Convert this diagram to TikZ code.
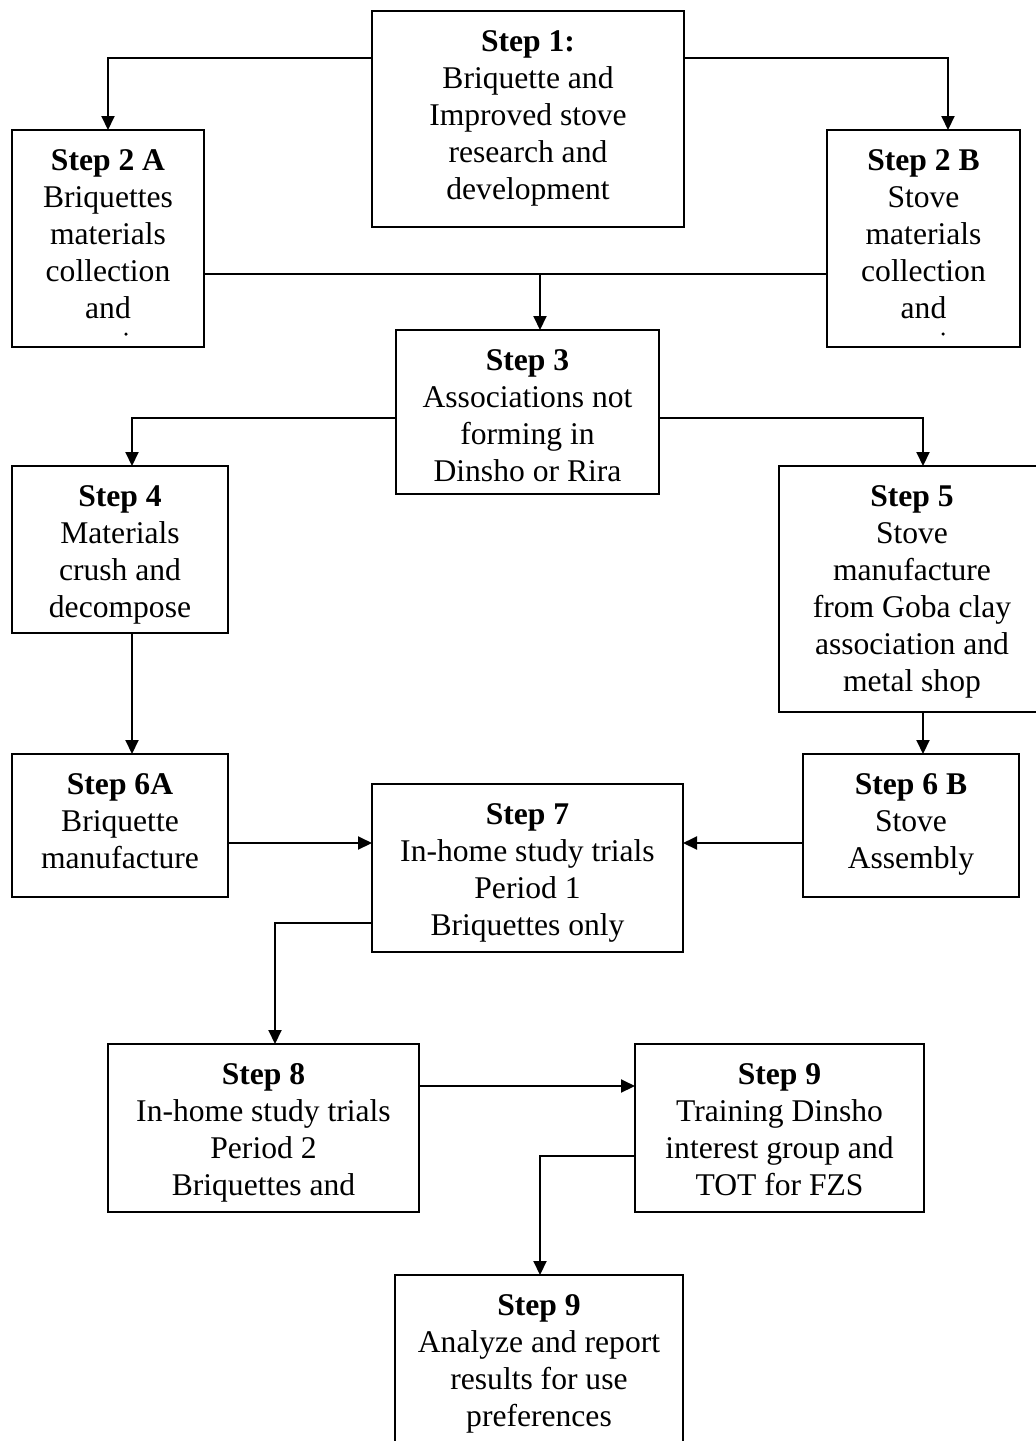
\documentclass[tikz,border=0pt]{standalone}
\usepackage{fontspec}
\setmainfont{Liberation Serif}
\usetikzlibrary{arrows.meta}
\tikzset{
  box/.style={draw=black, line width=2pt, inner sep=0pt, outer sep=0pt, fill=none},
  txt/.style={anchor=north, align=center, inner sep=0pt, font=\fontsize{31.6}{37}\selectfont},
  arr/.style={line width=2pt, -{Triangle[length=14pt,width=13pt]}},
  ln/.style={line width=2pt},
  dotmark/.style={circle, fill=black, inner sep=0pt, minimum size=3.5pt},
}
\begin{document}
\begin{tikzpicture}[x=1pt,y=-1pt]
\useasboundingbox (0,0) rectangle (1036,1441);
\clip (0,0) rectangle (1036,1441);
% boxes
\node[box, minimum width=312pt, minimum height=216pt] (s1) at (528,119) {};
\node[box, minimum width=192pt, minimum height=217pt] (s2a) at (108,238.5) {};
\node[box, minimum width=193pt, minimum height=217pt] (s2b) at (923.5,238.5) {};
\node[box, minimum width=263pt, minimum height=164pt] (s3) at (527.5,412) {};
\node[box, minimum width=216pt, minimum height=167pt] (s4) at (120,549.5) {};
\node[box, minimum width=266pt, minimum height=246pt] (s5) at (912,589) {};
\node[box, minimum width=216pt, minimum height=143pt] (s6a) at (120,825.5) {};
\node[box, minimum width=216pt, minimum height=143pt] (s6b) at (911,825.5) {};
\node[box, minimum width=311pt, minimum height=168pt] (s7) at (527.5,868) {};
\node[box, minimum width=311pt, minimum height=168pt] (s8) at (263.5,1128) {};
\node[box, minimum width=289pt, minimum height=168pt] (s9) at (779.5,1128) {};
\node[box, minimum width=288pt, minimum height=175pt] (s9b) at (539,1362.5) {};
% texts
\node[txt] (t1) at ([yshift=-14pt]s1.north) {\strut\textbf{Step 1:}\\Briquette and\\Improved stove\\research and\\development};
\node[txt] (t2a) at ([yshift=-14pt]s2a.north) {\strut\textbf{Step 2 A}\\Briquettes\\materials\\collection\\and};
\node[txt] (t2b) at ([yshift=-14pt]s2b.north) {\strut\textbf{Step 2 B}\\Stove\\materials\\collection\\and};
\node[dotmark] (d2a) at (126,334) {};
\node[dotmark] (d2b) at (943,334) {};
\node[txt] (t3) at ([yshift=-14pt]s3.north) {\strut\textbf{Step 3}\\Associations not\\forming in\\Dinsho or Rira};
\node[txt] (t4) at ([yshift=-14pt]s4.north) {\strut\textbf{Step 4}\\Materials\\crush and\\decompose};
\node[txt] (t5) at ([yshift=-14pt]s5.north) {\strut\textbf{Step 5}\\Stove\\manufacture\\from Goba clay\\association and\\metal shop};
\node[txt] (t6a) at ([yshift=-14pt]s6a.north) {\strut\textbf{Step 6A}\\Briquette\\manufacture};
\node[txt] (t6b) at ([yshift=-14pt]s6b.north) {\strut\textbf{Step 6 B}\\Stove\\Assembly};
\node[txt] (t7) at ([yshift=-14pt]s7.north) {\strut\textbf{Step 7}\\In-home study trials\\Period 1\\Briquettes only};
\node[txt] (t8) at ([yshift=-14pt]s8.north) {\strut\textbf{Step 8}\\In-home study trials\\Period 2\\Briquettes and};
\node[txt] (t9) at ([yshift=-14pt]s9.north) {\strut\textbf{Step 9}\\Training Dinsho\\interest group and\\TOT for FZS};
\node[txt] (t9b) at ([yshift=-14pt]s9b.north) {\strut\textbf{Step 9}\\Analyze and report\\results for use\\preferences};
% connectors
\draw[arr] ([yshift=-47pt]s1.north west) -| (s2a.north);
\draw[arr] ([yshift=-47pt]s1.north east) -| ([xshift=24.5pt]s2b.north);
\draw[ln] ([yshift=-35.5pt]s2a.east) -- ([yshift=-35.5pt]s2b.west);
\coordinate (j1) at ([yshift=-35.5pt]s2a.east);
\draw[arr] ([xshift=12.5pt]s3.north |- j1) -- ([xshift=12.5pt]s3.north);
\draw[arr] ([yshift=-6pt]s3.west) -| ([xshift=12pt]s4.north);
\draw[arr] ([yshift=-6pt]s3.east) -| ([xshift=11pt]s5.north);
\draw[arr] ([xshift=12pt]s4.south) -- ([xshift=12pt]s6a.north);
\draw[arr] ([xshift=11pt]s5.south) -- ([xshift=12pt]s6b.north);
\draw[arr] ([yshift=-17.5pt]s6a.east) -- ([yshift=25pt]s7.west);
\draw[arr] ([yshift=-17.5pt]s6b.west) -- ([yshift=25pt]s7.east);
\draw[arr] ([yshift=-55pt]s7.west) -| ([xshift=11.5pt]s8.north);
\draw[arr] ([yshift=42pt]s8.east) -- ([yshift=42pt]s9.west);
\draw[arr] ([yshift=-28pt]s9.west) -| ([xshift=1pt]s9b.north);
\end{tikzpicture}
\end{document}
